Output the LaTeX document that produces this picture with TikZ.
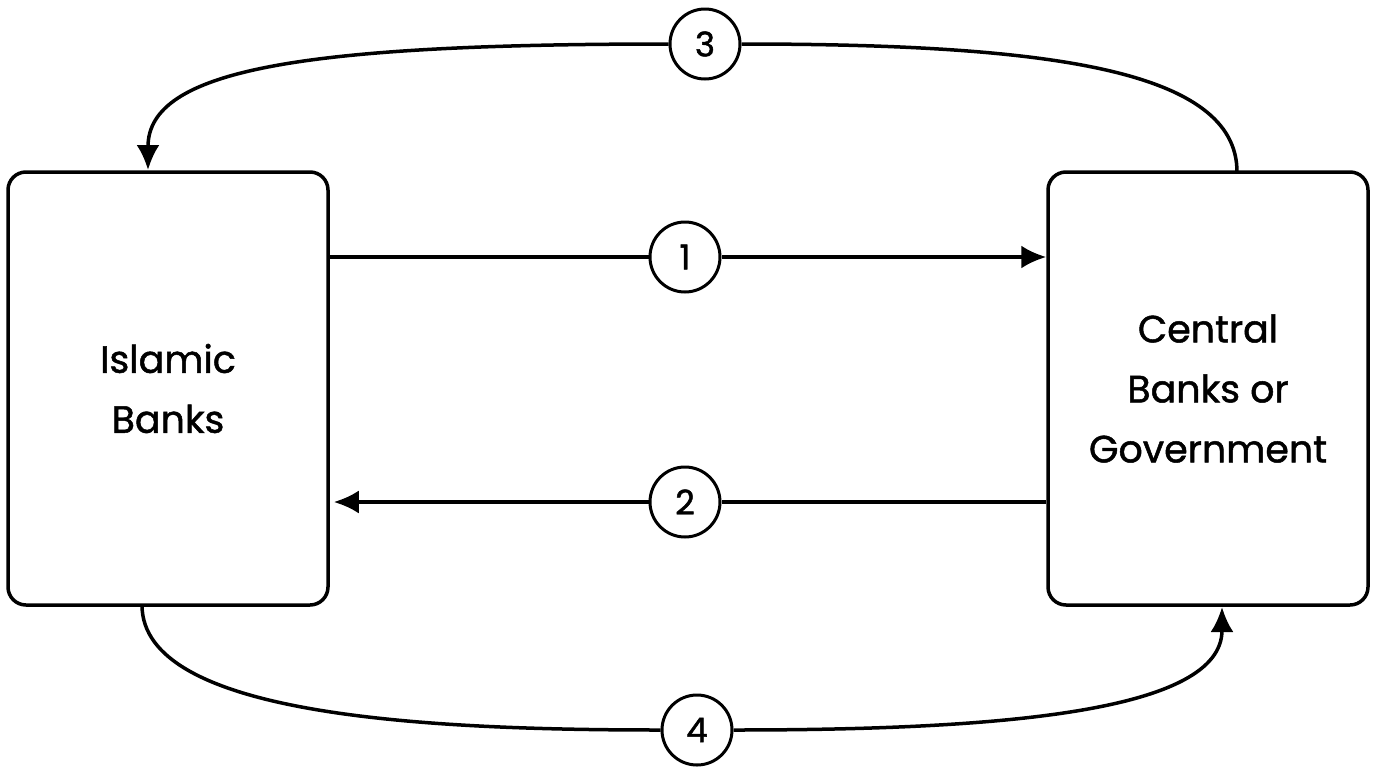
\documentclass[tikz,border=0pt]{standalone}
\usepackage{fontspec}
\setmainfont{Poppins}[FakeBold=1.3,UprightFeatures={FakeBold=1.3}]
\usetikzlibrary{arrows.meta}
\tikzset{
  box/.style={draw, line width=3.5pt, rounded corners=18pt, minimum width=320pt, minimum height=433pt, inner sep=0pt, align=center, font=\fontsize{38}{60}\selectfont},
  num/.style={draw, circle, line width=3pt, minimum size=70pt, inner sep=0pt, fill=white, font=\fontsize{34}{40}\selectfont},
  conn/.style={line width=3.5pt},
  arr/.style={conn, -{Latex[length=25pt,width=23pt]}}
}
\begin{document}
\begin{tikzpicture}[x=1pt,y=-1pt]
\useasboundingbox (0,0) rectangle (1377,772);
\node[box] (ib) at (168,388.5) {Islamic\\Banks};
\node[box] (cb) at (1208,388.5) {Central\\Banks or\\Government};
\node[num] (c1) at (685,257) {1};
\node[num] (c2) at (685,502) {2};
\node[num] (c3) at (705,44) {3};
\node[num] (c4) at (697,730) {4};
\coordinate (s3) at (1237,172);
\coordinate (e3) at (148,170);
\coordinate (s4) at (142,605);
\coordinate (e4) at (1222,607);
\draw[conn] (ib.east |- c1) -- (c1.west);
\draw[arr] (c1.east) -- (cb.west |- c1);
\draw[conn] (cb.west |- c2) -- (c2.east);
\draw[arr] (c2.west) -- ([xshift=4pt]ib.east |- c2);
\draw[conn] (s3) .. controls (1237,70) and (1050,44) .. (c3.east);
\draw[arr] (c3.west) .. controls (300,44) and (148,70) .. (e3);
\draw[conn] (s4) .. controls (142,715) and (420,730) .. (c4.west);
\draw[arr] (c4.east) .. controls (1000,730) and (1222,712) .. (e4);
\end{tikzpicture}
\end{document}
